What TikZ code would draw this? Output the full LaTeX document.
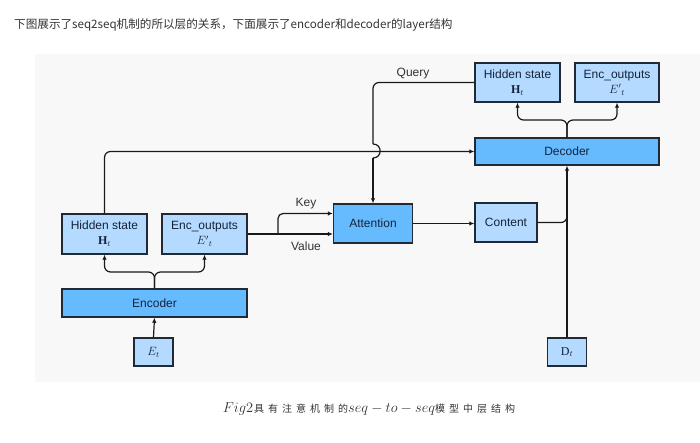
\documentclass[tikz,border=0pt]{standalone}
\usepackage{fontspec}
\setmainfont{Liberation Sans}
\newfontfamily\cjk{Noto Sans CJK SC}
\newfontfamily\cjksp[LetterSpace=40]{Noto Sans CJK SC}
\newfontfamily\serifH{Liberation Serif}
\usetikzlibrary{arrows.meta,calc}
\definecolor{panel}{HTML}{F8F8F8}
\definecolor{lightb}{HTML}{B4DAFF}
\definecolor{darkb}{HTML}{66BBFF}
\definecolor{edge}{HTML}{1F2A36}
\definecolor{txt}{HTML}{15233A}
\definecolor{txtg}{HTML}{333333}
\tikzset{
  box/.style={draw=edge, line width=1.4pt, inner sep=0pt, text=txt,
    font=\fontsize{12}{15}\selectfont, align=center},
  lbox/.style={box, fill=lightb},
  dbox/.style={box, fill=darkb},
  conn/.style={draw=black!90, line width=1.2pt},
  arr/.style={conn, -{Latex[length=5pt,width=4.5pt]}},
  lab/.style={font=\fontsize{12}{14}\selectfont, text=txtg, inner sep=0pt},
}
\begin{document}
\begin{tikzpicture}[x=1pt,y=-1pt]
\useasboundingbox (0,0) rectangle (700,443);
\fill[panel] (35,54) rectangle (700,382);
\node[anchor=west, font=\cjk\fontsize{11.6}{14}\selectfont, text=txtg, inner sep=0pt] (title) at (14,25)
  {下图展示了seq2seq机制的所以层的关系，下面展示了encoder和decoder的layer结构};

% boxes
\node[lbox, minimum width=85pt, minimum height=39pt] (hsTop) at (517.5,82.5) {Hidden state\\{\serifH\bfseries H}$_t$};
\node[lbox, minimum width=84pt, minimum height=39pt] (eoTop) at (617,82.5) {Enc\_outputs\\$E'{}_t$};
\node[dbox, minimum width=184pt, minimum height=27pt] (dec) at (567,151.5) {Decoder};
\node[lbox, minimum width=85pt, minimum height=40pt] (hsL) at (104.5,234) {Hidden state\\{\serifH\bfseries H}$_t$};
\node[lbox, minimum width=85pt, minimum height=40pt] (eoL) at (204.5,234) {Enc\_outputs\\$E'{}_t$};
\node[dbox, minimum width=185pt, minimum height=28pt] (enc) at (154.5,303) {Encoder};
\node[dbox, minimum width=79pt, minimum height=39pt] (att) at (373,223.5) {Attention};
\node[lbox, minimum width=62pt, minimum height=39pt] (con) at (506,222.5) {Content};
\node[lbox, minimum width=39pt, minimum height=28pt] (Et) at (153.5,352) {$E_t$};
\node[lbox, minimum width=39pt, minimum height=28pt] (Dt) at (567,352) {{\serifH D}$_t$};

% coordinates
\coordinate (qj1) at (373,144);
\coordinate (qj2) at (373,158);
\coordinate (dj) at (567,120);
\coordinate (ej) at (154.5,272);
\coordinate (kv) at (278,234);
\coordinate (cj) at (567,205);

% query with jump
\draw[conn, rounded corners=6pt] (hsTop.west) -| (qj1);
\draw[conn] (qj1) .. controls (382.5,144) and (382.5,158) .. (qj2);
\draw[arr] (qj2) -- (att.north);
\node[lab] (q) at (413,74) {Query};

% hidden state (left) to decoder
\draw[arr, rounded corners=6pt] (hsL.north) |- (dec.west);

% decoder branches
\draw[arr, rounded corners=6pt] (dec.north) -- (dj) -| (hsTop.south);
\draw[arr, rounded corners=6pt] (dec.north) -- (dj) -| (eoTop.south);

% encoder branches
\draw[arr, rounded corners=6pt] (enc.north) -- (ej) -| (hsL.south);
\draw[arr, rounded corners=6pt] (enc.north) -- (ej) -| (eoL.south);
\draw[arr] (Et.north) -- (enc.south);

% key / value
\draw[arr] (eoL.east) -- (eoL.east -| att.west);
\draw[arr, rounded corners=5pt] (kv) |- ($(att.west)+(0,-10)$);
\node[lab] (k) at (306,204) {Key};
\node[lab] (v) at (306,246) {Value};

% attention to content
\draw[arr] (att.east) -- (att.east -| con.west);

% D_t to decoder, content merge
\draw[arr] (Dt.north) -- (dec.south);
\draw[conn, rounded corners=6pt] (con.east) -| (cj);

% caption
\node[inner sep=0pt, text=txtg] (cap) at (369,409)
  {\fontsize{14}{16}\selectfont$Fig2$\kern1pt{\cjksp\fontsize{10}{12}\selectfont 具有注意机制的}$seq-to-seq${\cjksp\fontsize{10}{12}\selectfont 模型中层结构}};
\end{tikzpicture}
\end{document}
